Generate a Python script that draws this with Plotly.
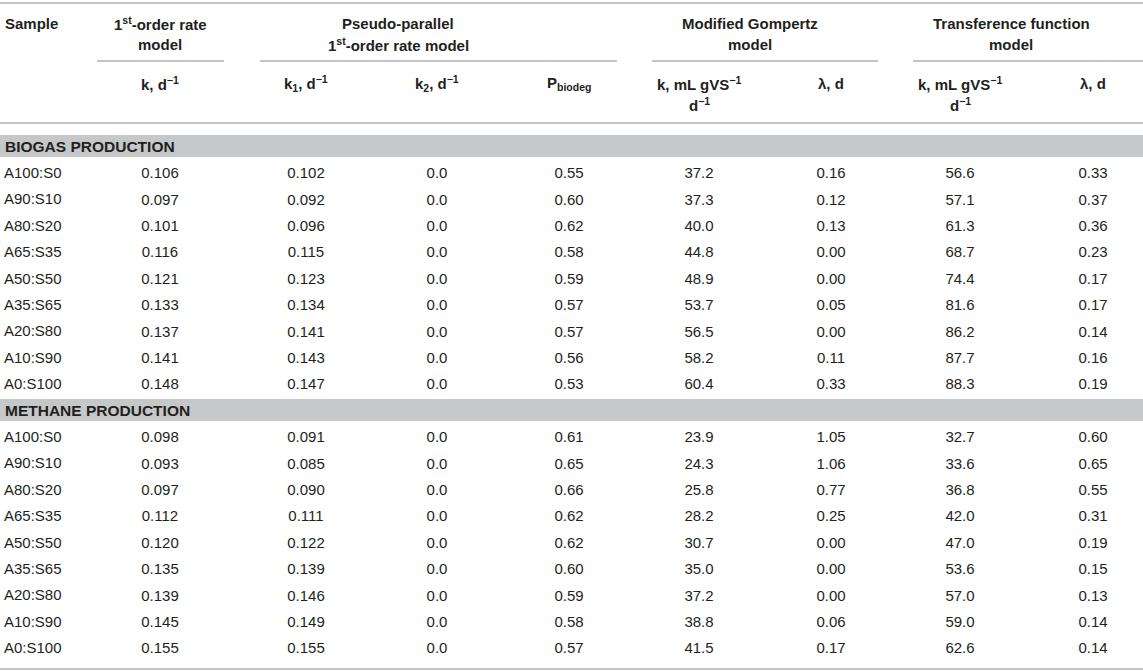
import plotly.graph_objects as go

# ---------------- data ----------------
samples = ["A100:S0", "A90:S10", "A80:S20", "A65:S35", "A50:S50",
           "A35:S65", "A20:S80", "A10:S90", "A0:S100"]
sections = ["BIOGAS PRODUCTION", "METHANE PRODUCTION"]

bio_first_k = [0.106, 0.097, 0.101, 0.116, 0.121, 0.133, 0.137, 0.141, 0.148]
bio_k1 = [0.102, 0.092, 0.096, 0.115, 0.123, 0.134, 0.141, 0.143, 0.147]
bio_k2 = [0.0, 0.0, 0.0, 0.0, 0.0, 0.0, 0.0, 0.0, 0.0]
bio_pbiodeg = [0.55, 0.60, 0.62, 0.58, 0.59, 0.57, 0.57, 0.56, 0.53]
bio_gomp_k = [37.2, 37.3, 40.0, 44.8, 48.9, 53.7, 56.5, 58.2, 60.4]
bio_gomp_lambda = [0.16, 0.12, 0.13, 0.00, 0.00, 0.05, 0.00, 0.11, 0.33]
bio_tf_k = [56.6, 57.1, 61.3, 68.7, 74.4, 81.6, 86.2, 87.7, 88.3]
bio_tf_lambda = [0.33, 0.37, 0.36, 0.23, 0.17, 0.17, 0.14, 0.16, 0.19]

met_first_k = [0.098, 0.093, 0.097, 0.112, 0.120, 0.135, 0.139, 0.145, 0.155]
met_k1 = [0.091, 0.085, 0.090, 0.111, 0.122, 0.139, 0.146, 0.149, 0.155]
met_k2 = [0.0, 0.0, 0.0, 0.0, 0.0, 0.0, 0.0, 0.0, 0.0]
met_pbiodeg = [0.61, 0.65, 0.66, 0.62, 0.62, 0.60, 0.59, 0.58, 0.57]
met_gomp_k = [23.9, 24.3, 25.8, 28.2, 30.7, 35.0, 37.2, 38.8, 41.5]
met_gomp_lambda = [1.05, 1.06, 0.77, 0.25, 0.00, 0.00, 0.00, 0.06, 0.17]
met_tf_k = [32.7, 33.6, 36.8, 42.0, 47.0, 53.6, 57.0, 59.0, 62.6]
met_tf_lambda = [0.60, 0.65, 0.55, 0.31, 0.19, 0.15, 0.13, 0.14, 0.14]

group_headers = [
    ["1<sup>st</sup>-order rate", "model"],
    ["Pseudo-parallel", "1<sup>st</sup>-order rate model"],
    ["Modified Gompertz", "model"],
    ["Transference function", "model"],
]
col_headers = [
    ["k, d<sup>−1</sup>"],
    ["k<sub>1</sub>, d<sup>−1</sup>"],
    ["k<sub>2</sub>, d<sup>−1</sup>"],
    ["P<sub>biodeg</sub>"],
    ["k, mL gVS<sup>−1</sup>", "d<sup>−1</sup>"],
    ["λ, d"],
    ["k, mL gVS<sup>−1</sup>", "d<sup>−1</sup>"],
    ["λ, d"],
]
decimals = [3, 3, 1, 2, 1, 2, 1, 2]

# ---------------- layout / styling ----------------
W, H = 1143, 672
FONT = "Liberation Sans, Arial, Helvetica, sans-serif"
TXT = "#231f20"
LINE = "#c4c4c4"
BAND = "#c6c7c9"
FS = 15

col_x = [160, 306, 437, 569, 699, 831, 960, 1093]
group_x = [160, 398, 750, 1011]
group_lines = [(97, 224), (260, 617), (652, 878), (913, 1143)]
row0_y, row_step = 146, 26.4
text_trace_dy = 2  # scatter text sits slightly higher than annotations

bio_cols = [bio_first_k, bio_k1, bio_k2, bio_pbiodeg, bio_gomp_k,
            bio_gomp_lambda, bio_tf_k, bio_tf_lambda]
met_cols = [met_first_k, met_k1, met_k2, met_pbiodeg, met_gomp_k,
            met_gomp_lambda, met_tf_k, met_tf_lambda]

fig = go.Figure()

shapes = []
annotations = []

# horizontal rules
for y in (3, 123, 669):
    shapes.append(dict(type="line", xref="x", yref="y", x0=0, x1=W, y0=y, y1=y,
                       line=dict(color=LINE, width=2)))
for x0, x1 in group_lines:
    shapes.append(dict(type="line", xref="x", yref="y", x0=x0, x1=x1, y0=61, y1=61,
                       line=dict(color=LINE, width=2)))

# header text
annotations.append(dict(x=3, y=23, text="<b>Sample</b>", xanchor="left", yanchor="middle",
                        showarrow=False, font=dict(family=FONT, size=FS, color=TXT)))
for gx, lines in zip(group_x, group_headers):
    for li, t in enumerate(lines):
        annotations.append(dict(x=gx, y=23 + 21 * li, text="<b>%s</b>" % t,
                                xanchor="center", yanchor="middle", showarrow=False,
                                font=dict(family=FONT, size=FS, color=TXT)))
for cx, lines in zip(col_x, col_headers):
    for li, t in enumerate(lines):
        annotations.append(dict(x=cx, y=83 + 21 * li, text="<b>%s</b>" % t,
                                xanchor="center", yanchor="middle", showarrow=False,
                                font=dict(family=FONT, size=FS, color=TXT)))

# sections
for si, (title, cols) in enumerate(zip(sections, [bio_cols, met_cols])):
    band_y = row0_y + row_step * 10 * si
    shapes.append(dict(type="rect", xref="x", yref="y", x0=0, x1=W,
                       y0=band_y - 11, y1=band_y + 11, fillcolor=BAND,
                       line=dict(width=0), layer="below"))
    annotations.append(dict(x=3, y=band_y, text="<b>%s</b>" % title, xanchor="left",
                            yanchor="middle", showarrow=False,
                            font=dict(family=FONT, size=FS + 0.5, color=TXT)))
    ys = [band_y + row_step * (i + 1) for i in range(len(samples))]
    for s, y in zip(samples, ys):
        annotations.append(dict(x=2, y=y, text=s, xanchor="left", yanchor="middle",
                                showarrow=False,
                                font=dict(family=FONT, size=FS, color=TXT)))
    for cx, vals, d in zip(col_x, cols, decimals):
        fig.add_trace(go.Scatter(x=[cx] * len(vals), y=[y + text_trace_dy for y in ys],
                                 mode="text",
                                 text=[f"{v:.{d}f}" for v in vals],
                                 textposition="middle center",
                                 textfont=dict(family=FONT, size=FS, color=TXT),
                                 hoverinfo="skip", showlegend=False))

fig.update_layout(
    width=W, height=H, margin=dict(l=0, r=0, t=0, b=0),
    paper_bgcolor="white", plot_bgcolor="white",
    xaxis=dict(range=[0, W], visible=False, fixedrange=True),
    yaxis=dict(range=[H, 0], visible=False, fixedrange=True),
    shapes=shapes, annotations=annotations, showlegend=False,
)

fig.write_html("out.html", config={"displayModeBar": False},
               post_script="document.body.style.margin='0';document.body.style.overflow='hidden';")
